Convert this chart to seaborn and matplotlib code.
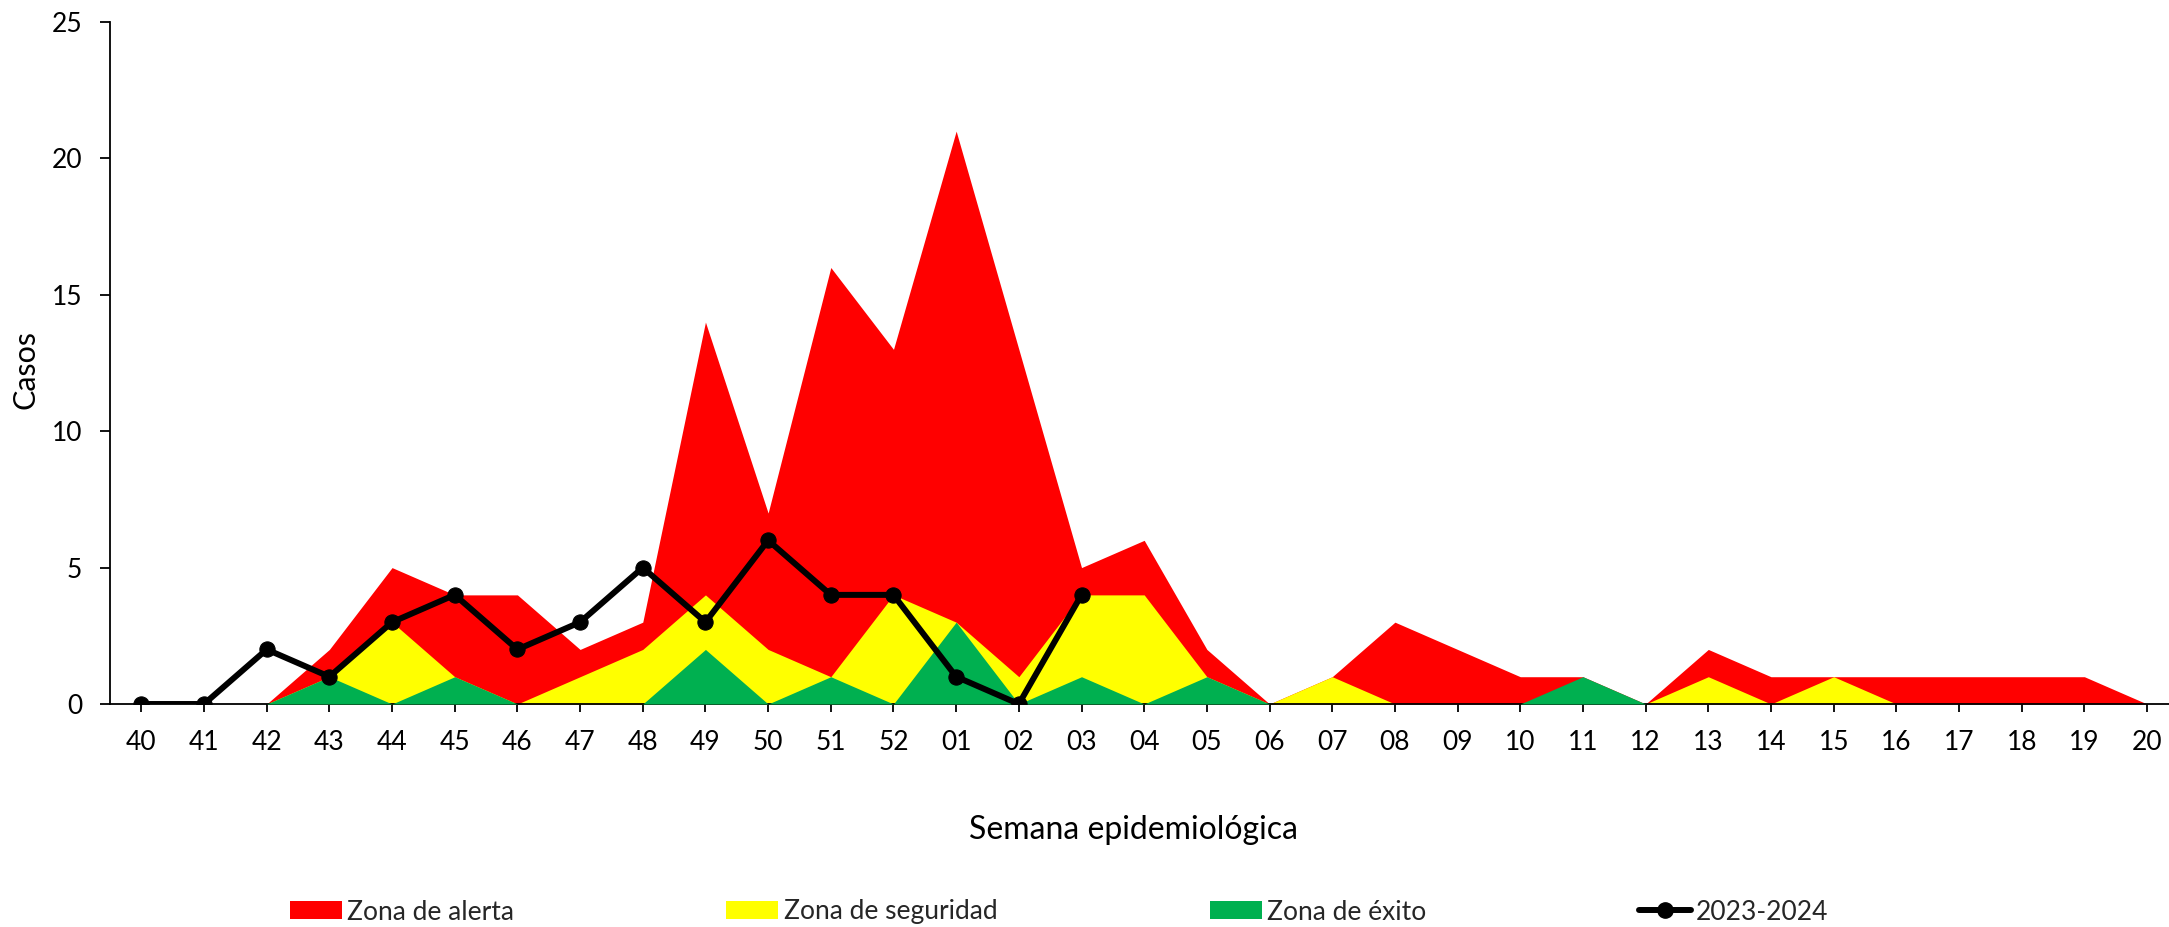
import numpy as np
import seaborn as sns
import matplotlib.pyplot as plt
from matplotlib.patches import Patch
from matplotlib.lines import Line2D

nan = np.nan

semanas = ["40", "41", "42", "43", "44", "45", "46", "47", "48", "49", "50", "51", "52",
           "01", "02", "03", "04", "05", "06", "07", "08", "09", "10",
           "11", "12", "13", "14", "15", "16", "17", "18", "19", "20"]

zona_alerta = [nan, nan, 0, 2, 5, 4, 4, 2, 3, 14, 7, 16, 13,
               21, 13, 5, 6, 2, 0, 1, 3, 2, 1, 1, 0, 2, 1, 1, 1, 1, 1, 1, 0]
zona_seguridad = [nan, nan, 0, 1, 3, 1, 0, 1, 2, 4, 2, 1, 4,
                  3, 1, 4, 4, 1, 0, 1, 0, 0, 0, 0, 0, 1, 0, 1, 0, 0, 0, 0, 0]
zona_exito = [nan, nan, 0, 1, 0, 1, 0, 0, 0, 2, 0, 1, 0,
              3, 0, 1, 0, 1, 0, 0, 0, 0, 0, 1, 0, 0, 0, 0, 0, 0, 0, 0, 0]
casos_2023_2024 = [0, 0, 2, 1, 3, 4, 2, 3, 5, 3, 6, 4, 4,
                   1, 0, 4] + [nan] * 17

ROJO = "#FF0000"
AMARILLO = "#FFFF00"
VERDE = "#00B050"

sns.set_theme(style="white")
plt.rcParams["font.family"] = ["Lato", "DejaVu Sans"]

W, H = 2169, 927
fig = plt.figure(figsize=(W / 100, H / 100), dpi=100)
ax = fig.add_axes([110 / W, 1 - 704 / H, (W - 110) / W, (704 - 22) / H])

x = np.arange(len(semanas))
ax.fill_between(x, zona_alerta, color=ROJO, linewidth=0, zorder=1)
ax.fill_between(x, zona_seguridad, color=AMARILLO, linewidth=0, zorder=2)
ax.fill_between(x, zona_exito, color=VERDE, linewidth=0, zorder=3)

sns.lineplot(x=x, y=casos_2023_2024, ax=ax, color="black", linewidth=4.3,
             marker="o", markersize=11, markeredgecolor="black", zorder=4)

ax.set_xlim(-0.5, 32.35)
ax.set_ylim(0, 25)
ax.set_yticks(range(0, 26, 5))
ax.set_xticks(x)
ax.set_xticklabels(semanas)

for s in ["top", "right"]:
    ax.spines[s].set_visible(False)
for s in ["left", "bottom"]:
    ax.spines[s].set_color("black")
    ax.spines[s].set_linewidth(1.3)

ax.tick_params(axis="x", direction="out", length=6, width=1.3, pad=13,
               labelsize=19, bottom=True, colors="black")
ax.tick_params(axis="y", direction="out", length=7, width=1.3, pad=13,
               labelsize=19, left=True, colors="black")

ax.set_xlabel("Semana epidemiológica", fontsize=23, color="black")
ax.xaxis.set_label_coords(0.497, (704 - 830) / 682)
ax.xaxis.label.set_va("center")
ax.set_ylabel("Casos", fontsize=22, color="black")
ax.yaxis.set_label_coords((25 - 110) / (W - 110), 0.49)
ax.yaxis.label.set_va("center")

handles = [
    Patch(facecolor=ROJO, edgecolor="none", label="Zona de alerta"),
    Patch(facecolor=AMARILLO, edgecolor="none", label="Zona de seguridad"),
    Patch(facecolor=VERDE, edgecolor="none", label="Zona de éxito"),
    Line2D([0], [0], color="black", linewidth=4.3, marker="o", markersize=11,
           label="2023-2024"),
]
fig.legend(handles=handles, loc="center", bbox_to_anchor=(1059 / W, 1 - 912 / H),
           ncol=4, frameon=False, fontsize=19, handlelength=1.97, handleheight=0.65,
           handletextpad=0.2, columnspacing=8.05, borderpad=0)

fig.savefig("out.png", dpi=100)
